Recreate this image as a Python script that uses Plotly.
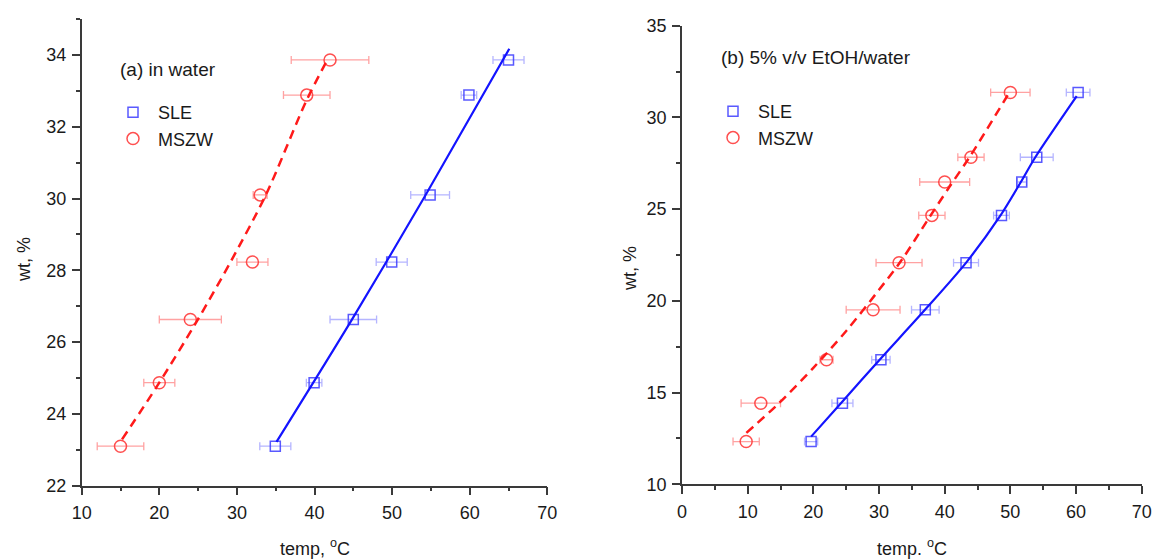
import plotly.graph_objects as go

# ---------------- Panel (a): in water ----------------
a_wt = [23.1, 24.87, 26.63, 28.23, 30.1, 32.88, 33.86]
a_sle_temp = [34.95, 39.95, 45.0, 49.95, 54.9, 59.9, 65.0]
a_sle_err = [2.0, 1.0, 3.0, 2.0, 2.5, 1.0, 2.0]
a_mszw_temp = [15.0, 20.0, 24.0, 32.0, 33.0, 39.0, 42.0]
a_mszw_err = [3.0, 2.0, 4.0, 2.0, 0.9, 3.0, 5.0]

a_sle_fit_temp = [35.1, 44.8, 54.3, 65.1]
a_sle_fit_wt = [23.22, 26.62, 30.09, 34.17]
a_mszw_fit_temp = [15.2, 20.0, 25.0, 29.2, 33.8, 38.9, 41.5]
a_mszw_fit_wt = [23.29, 24.87, 26.64, 28.24, 30.13, 32.7, 33.8]

# ---------------- Panel (b): 5% v/v EtOH/water ----------------
b_wt = [12.33, 14.42, 16.79, 19.51, 22.08, 24.66, 26.48, 27.83, 31.36]
b_sle_temp = [19.66, 24.43, 30.29, 37.05, 43.25, 48.65, 51.74, 54.02, 60.32]
b_sle_err = [1.0, 1.6, 1.4, 2.1, 1.9, 1.2, 0.7, 2.5, 1.8]
b_mszw_temp = [9.77, 12.0, 22.0, 29.1, 33.05, 38.05, 40.0, 44.0, 50.0]
b_mszw_err = [2.0, 3.0, 1.0, 4.1, 3.5, 2.0, 3.8, 2.0, 3.0]

b_sle_fit_temp = [19.66, 24.2, 30.1, 37.0, 43.3, 48.5, 51.6, 53.8, 60.1]
b_sle_fit_wt = [12.6, 14.42, 16.79, 19.51, 22.1, 24.66, 26.48, 27.83, 31.16]
b_mszw_fit_temp = [9.8, 14.7, 20.0, 25.1, 30.0, 33.5, 37.3, 40.7, 43.9, 50.0]
b_mszw_fit_wt = [12.8, 14.4, 16.35, 18.4, 20.6, 22.25, 24.35, 26.2, 27.9, 31.45]

FONT = "Arial, Liberation Sans, sans-serif"
TXT = "#1a1a1a"
AX = "#3a3a3a"

SQ_COL = "rgba(60,60,255,0.85)"
SQ_ERR = "rgba(90,90,255,0.45)"
CI_COL = "rgba(255,60,60,0.9)"
CI_ERR = "rgba(255,70,70,0.5)"
BLUE_LINE = "#1414ff"
RED_LINE = "#ff1a1a"

fig = go.Figure()


def add_panel(xa, ya, legend, sle_t, sle_e, msz_t, msz_e, wt,
              sfx, sfy, mfx, mfy):
    fig.add_trace(go.Scatter(
        x=sle_t, y=wt, mode="markers", name="SLE",
        marker=dict(symbol="square-open", size=10, color=SQ_COL,
                    line=dict(width=1.5, color=SQ_COL)),
        error_x=dict(type="data", array=sle_e, visible=True, color=SQ_ERR,
                     thickness=1.3, width=4),
        xaxis=xa, yaxis=ya, legend=legend, cliponaxis=False))
    fig.add_trace(go.Scatter(
        x=msz_t, y=wt, mode="markers", name="MSZW",
        marker=dict(symbol="circle-open", size=12, color=CI_COL,
                    line=dict(width=1.5, color=CI_COL)),
        error_x=dict(type="data", array=msz_e, visible=True, color=CI_ERR,
                     thickness=1.3, width=4),
        xaxis=xa, yaxis=ya, legend=legend, cliponaxis=False))
    fig.add_trace(go.Scatter(
        x=sfx, y=sfy, mode="lines", showlegend=False,
        line=dict(color=BLUE_LINE, width=2.2, shape="spline", smoothing=0.8),
        xaxis=xa, yaxis=ya, hoverinfo="skip"))
    fig.add_trace(go.Scatter(
        x=mfx, y=mfy, mode="lines", showlegend=False,
        line=dict(color=RED_LINE, width=2.5, dash="9px,6px",
                  shape="spline", smoothing=0.8),
        xaxis=xa, yaxis=ya, hoverinfo="skip"))


add_panel("x", "y", "legend", a_sle_temp, a_sle_err, a_mszw_temp, a_mszw_err,
          a_wt, a_sle_fit_temp, a_sle_fit_wt, a_mszw_fit_temp, a_mszw_fit_wt)
add_panel("x2", "y2", "legend2", b_sle_temp, b_sle_err, b_mszw_temp, b_mszw_err,
          b_wt, b_sle_fit_temp, b_sle_fit_wt, b_mszw_fit_temp, b_mszw_fit_wt)

W, H = 1157, 560


def axis_common(**kw):
    d = dict(showgrid=False, zeroline=False, showline=True, linecolor=AX,
             linewidth=1.5, ticks="outside", ticklen=8, tickwidth=1.5,
             tickcolor=AX, mirror=False, automargin=False,
             tickfont=dict(family=FONT, size=18, color=TXT),
             minor=dict(ticks="outside", ticklen=4, tickwidth=1.5,
                        tickcolor=AX, showgrid=False))
    d.update(kw)
    return d


xa1 = axis_common(domain=[81.7 / W, 547.3 / W], range=[10, 70], tick0=10,
                  dtick=10, anchor="y", ticklabelstandoff=2)
xa1["minor"]["dtick"] = 5
ya1 = axis_common(domain=[(H - 485.7) / H, (H - 19) / H], range=[22, 35],
                  tick0=22, dtick=2, anchor="x", ticklabelstandoff=2)
ya1["minor"]["dtick"] = 1
ya1["minor"]["tick0"] = 22
xa2 = axis_common(domain=[682 / W, 1141.7 / W], range=[0, 70], tick0=0,
                  dtick=10, anchor="y2", ticklabelstandoff=2)
xa2["minor"]["dtick"] = 5
ya2 = axis_common(domain=[(H - 484.3) / H, (H - 25.7) / H], range=[10, 35],
                  tick0=10, dtick=5, anchor="x2", ticklabelstandoff=2)
ya2["minor"]["dtick"] = 2.5
ya2["minor"]["tick0"] = 10

legend_common = dict(font=dict(family=FONT, size=18, color=TXT),
                     bgcolor="rgba(0,0,0,0)", borderwidth=0,
                     xanchor="left", yanchor="top", itemwidth=40,
                     xref="paper", yref="paper")

ann_font = dict(family=FONT, size=19, color=TXT)
ann_font_t = dict(family=FONT, size=18, color=TXT)

fig.update_layout(
    width=W, height=H,
    margin=dict(l=0, r=0, t=0, b=0),
    paper_bgcolor="white", plot_bgcolor="white",
    font=dict(family=FONT, size=18, color=TXT),
    xaxis=xa1, yaxis=ya1, xaxis2=xa2, yaxis2=ya2,
    legend=dict(x=108 / W, y=(H - 94) / H, **legend_common),
    legend2=dict(x=708 / W, y=(H - 93) / H, **legend_common),
    annotations=[
        dict(text="(a) in water", x=118 / W, y=(H - 69) / H, xref="paper",
             yref="paper", xanchor="left", yanchor="middle",
             showarrow=False, font=ann_font),
        dict(text="(b) 5% v/v EtOH/water", x=719 / W, y=(H - 58) / H,
             xref="paper", yref="paper", xanchor="left", yanchor="middle",
             showarrow=False, font=ann_font),
        dict(text="wt, %", x=24 / W, y=(H - 260) / H, xref="paper",
             yref="paper", xanchor="center", yanchor="middle", textangle=-90,
             showarrow=False, font=ann_font_t),
        dict(text="wt, %", x=630 / W, y=(H - 269) / H, xref="paper",
             yref="paper", xanchor="center", yanchor="middle", textangle=-90,
             showarrow=False, font=ann_font_t),
        dict(text="temp, <sup>o</sup>C", x=314.5 / W, y=(H - 547) / H,
             xref="paper", yref="paper", xanchor="center", yanchor="middle",
             showarrow=False, font=ann_font_t),
        dict(text="temp. <sup>o</sup>C", x=911.9 / W, y=(H - 547) / H,
             xref="paper", yref="paper", xanchor="center", yanchor="middle",
             showarrow=False, font=ann_font_t),
    ],
)

fig.write_html("out.html")
